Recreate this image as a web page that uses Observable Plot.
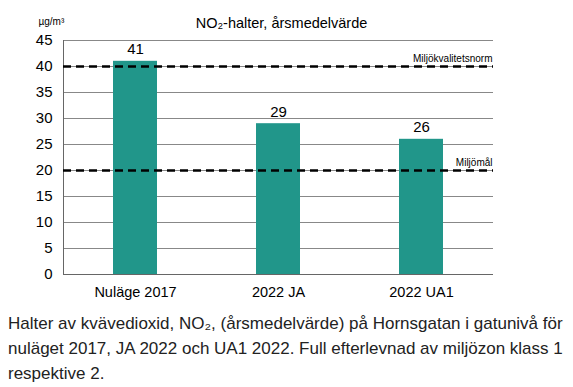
<!DOCTYPE html>
<html><head><meta charset="utf-8">
<script src="https://cdn.jsdelivr.net/npm/d3@7"></script>
<script src="https://cdn.jsdelivr.net/npm/@observablehq/plot@0.6"></script>
<style>
body{margin:0;background:#fff;font-family:"Liberation Sans",Arial,sans-serif;}
#cap{margin:6px 0 0 8px;font-size:17px;line-height:25px;color:#222;width:565px;white-space:nowrap;}
</style></head><body>
<div id="chart"></div>
<div id="cap">Halter av kvävedioxid, NO₂, (årsmedelvärde) på Hornsgatan i gatunivå för<br>nuläget 2017, JA 2022 och UA1 2022. Full efterlevnad av miljözon klass 1<br>respektive 2.</div>
<script>
const categories = ["Nuläge 2017", "2022 JA", "2022 UA1"];
const values = [41, 29, 26];
const refLines = [40, 20];
const refLabels = ["Miljökvalitetsnorm", "Miljömål"];
const yTicks = [0, 5, 10, 15, 20, 25, 30, 35, 40, 45];
const title = "NO₂-halter, årsmedelvärde";
const unit = "µg/m³";

const data = categories.map((c, i) => ({cat: c, val: values[i]}));
const refs = refLines.map((v, i) => ({v, label: refLabels[i]}));

const plot = Plot.plot({
  width: 573, height: 305,
  marginTop: 40, marginBottom: 31, marginLeft: 63, marginRight: 80,
  style: {fontFamily: "'Liberation Sans', Arial, sans-serif", fontSize: "13px", color: "#000"},
  x: {domain: categories, paddingInner: 0.69, paddingOuter: 0.345, label: null},
  y: {domain: [0, 45], ticks: yTicks, label: null},
  marks: [
    Plot.ruleY(yTicks.filter(t => t > 0), {stroke: "#888", strokeWidth: 1}),
    Plot.ruleY([0], {stroke: "#666", strokeWidth: 1}),
    Plot.frame({anchor: "left", stroke: "#666"}),
    Plot.barY(data, {x: "cat", y: "val", fill: "#21968a"}),
    Plot.ruleY(refs, {y: "v", stroke: "#000", strokeWidth: 2.5, strokeDasharray: "8,5"}),
    Plot.text(refs, {y: "v", text: "label", frameAnchor: "right", textAnchor: "end", dy: -8, dx: -1, fontSize: 10, letterSpacing: "-0.4px"}),
    Plot.text(data, {x: "cat", y: "val", text: d => String(d.val), dy: -12, fontSize: 15}),
    Plot.axisY({ticks: yTicks, tickSize: 0, tickPadding: 11, fontSize: 15}),
    Plot.axisX({tickSize: 0, tickPadding: 12, fontSize: 14.5}),
    Plot.text([title], {frameAnchor: "top", dy: -23, dx: 3, fontSize: 14.5}),
    Plot.text([unit], {frameAnchor: "top-left", dx: -25, dy: -23, fontSize: 10})
  ]
});
document.getElementById("chart").appendChild(plot);
</script>
</body></html>
